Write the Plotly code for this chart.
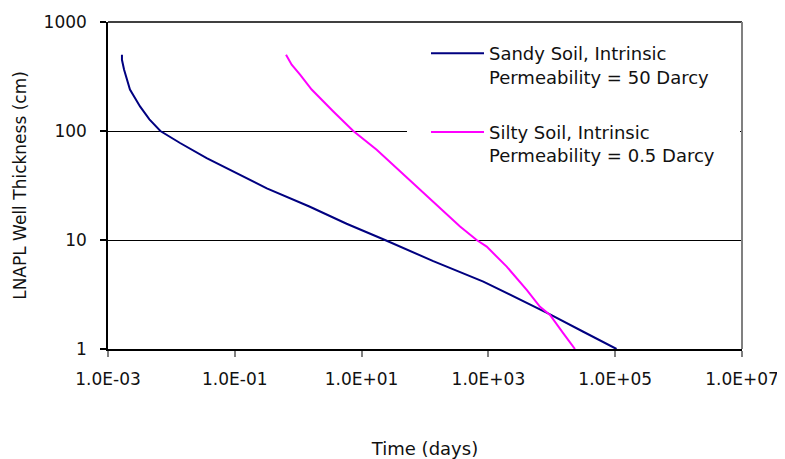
import plotly.graph_objects as go

# ---- data ----
sandy_t = [1.66e-3, 1.66e-3, 1.79e-3, 2.22e-3, 3.2e-3, 4.5e-3, 6.7e-3, 1.37e-2, 3.6e-2,
           9.5e-2, 0.32, 1.5, 5.8, 23.4, 40, 135, 832, 9370, 3.14e4, 1.05e5]
sandy_h = [500, 450, 366, 240, 168, 128, 100, 77.6, 56.5,
           42.6, 29.8, 20.3, 14.1, 10, 8.7, 6.4, 4.15, 2.08, 1.44, 1.0]

silty_t = [0.643, 0.789, 1.07, 1.63, 3.58, 7.4, 17.3, 40.4, 83.4, 357, 653,
           940, 1946, 4020, 6520, 9370, 15200, 23200]
silty_h = [500, 406, 329, 240, 151, 100, 67.3, 42.6, 28.8, 13.3, 10,
           8.69, 5.7, 3.48, 2.44, 2.05, 1.39, 1.0]

series_names = ["Sandy Soil, Intrinsic<br>Permeability = 50 Darcy",
                "Silty Soil, Intrinsic<br>Permeability = 0.5 Darcy"]

x_tickvals = [1e-3, 1e-1, 1e1, 1e3, 1e5, 1e7]
x_ticktext = ["1.0E-03", "1.0E-01", "1.0E+01", "1.0E+03", "1.0E+05", "1.0E+07"]
y_tickvals = [1, 10, 100, 1000]
y_ticktext = ["1", "10", "100", "1000"]

FONT = "DejaVu Sans"

fig = go.Figure()
fig.add_trace(go.Scatter(x=sandy_t, y=sandy_h, mode="lines", name=series_names[0],
                         legendgroup="a", line=dict(color="#000080", width=2)))
fig.add_trace(go.Scatter(x=silty_t, y=silty_h, mode="lines", name=series_names[1],
                         legendgroup="b", line=dict(color="#FF00FF", width=2)))

# the page body has an 8px default margin, so the figure is 8px smaller
OFF = 8
W, H = 785 - OFF, 459 - OFF
L, R, T, B = 108 - OFF, 43, 22 - OFF, 110
pw = W - L - R
ph = H - T - B

def px_to_paper_x(px):
    return (px - OFF - L) / pw

def px_to_paper_y(py):
    return (H - B - (py - OFF)) / ph

fig.update_layout(
    width=W, height=H,
    margin=dict(l=L, r=R, t=T, b=B, autoexpand=False),
    paper_bgcolor="white", plot_bgcolor="white",
    font=dict(family=FONT, size=17, color="#111111"),
    showlegend=True,
    legend=dict(
        x=px_to_paper_x(426), xanchor="left",
        y=px_to_paper_y(35), yanchor="top",
        bgcolor="rgba(0,0,0,0)", borderwidth=0,
        font=dict(family=FONT, size=18, color="#111111"),
        itemwidth=53, valign="top", tracegroupgap=29,
        traceorder="grouped",
    ),
    xaxis=dict(
        type="log", range=[-3, 7], automargin=False,
        tickvals=x_tickvals, ticktext=x_ticktext,
        ticks="outside", ticklen=6, tickcolor="#808080", tickwidth=1.5,
        showline=True, linecolor="#000000", linewidth=1.5,
        showgrid=False, zeroline=False,
        ticklabelstandoff=8,
        tickfont=dict(family=FONT, size=17, color="#111111"),
        title=dict(text="Time (days)", standoff=55,
                   font=dict(family=FONT, size=18, color="#111111")),
    ),
    yaxis=dict(
        type="log", range=[0, 3], automargin=False,
        tickvals=y_tickvals, ticktext=y_ticktext,
        ticks="outside", ticklen=6, tickcolor="#000000", tickwidth=1.5,
        showline=True, linecolor="#000000", linewidth=1.5,
        showgrid=True, gridcolor="#000000", gridwidth=1,
        zeroline=False,
        ticklabelstandoff=10,
        tickfont=dict(family=FONT, size=17, color="#111111"),
        title=dict(text="LNAPL Well Thickness (cm)", standoff=13,
                   font=dict(family=FONT, size=17, color="#111111")),
    ),
    shapes=[
        # legend background covering the 100 gridline
        dict(type="rect", xref="paper", yref="paper", layer="above",
             x0=px_to_paper_x(407), x1=px_to_paper_x(740),
             y0=px_to_paper_y(172), y1=px_to_paper_y(24),
             fillcolor="white", line=dict(width=0)),
        # top border
        dict(type="line", xref="paper", yref="paper", x0=0, x1=1, y0=1, y1=1,
             line=dict(color="#000000", width=1.5)),
        # right border (grey)
        dict(type="line", xref="paper", yref="paper", x0=1, x1=1, y0=0, y1=1,
             line=dict(color="#808080", width=2)),
    ],
)

fig.write_html("out.html")
